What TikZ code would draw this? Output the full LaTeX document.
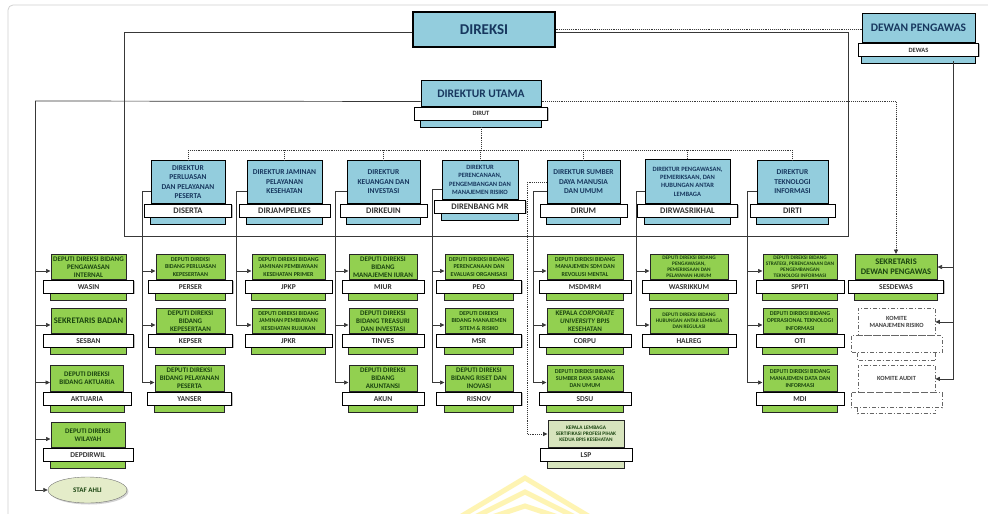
\documentclass[tikz,border=0pt]{standalone}
\usepackage{fontspec}
\setmainfont{Carlito}
\usetikzlibrary{arrows.meta,shapes.geometric,shadows}

\definecolor{dirblue}{HTML}{93CDDD}
\definecolor{depgreen}{HTML}{92D050}
\definecolor{lspgreen}{HTML}{D7E4BD}
\definecolor{ahligreen}{HTML}{E4ECC9}
\definecolor{navytext}{HTML}{17375E}
\definecolor{greentext}{HTML}{1A4410}
\definecolor{linegray}{HTML}{383838}

% kotak jabatan: bagian warna, label putih, strip bawah
% #1 gaya, #2 nama, #3 x, #4 atas, #5 tinggi judul, #6 lebar, #7 lebar label, #8 judul, #9 singkatan
\newcommand{\orgcard}[9]{%
  \node[#1, minimum width=#6pt, minimum height=#5pt, anchor=north] (#2) at (#3,#4) {#8};
  \draw[#1] (#2.south west) rectangle ([yshift=-20pt]#2.south east);
  \node[cardlabel, minimum width=#7pt, anchor=north] (#2-l) at (#2.south) {#9};
}
\newcommand{\dlab}[1]{{\fontsize{8.5}{9}\selectfont #1}}
\newcommand{\slab}[1]{{\fontsize{6.5}{7}\selectfont #1}}

\begin{document}
\begin{tikzpicture}[x=1pt, y=-1pt,
    link/.style={draw=linegray, line width=0.7pt},
    arr/.style={link, -{Triangle[length=4.5pt, width=4pt]}},
    dotlink/.style={draw=linegray, line width=0.9pt, densely dotted},
    dotarr/.style={dotlink, -{Triangle[length=4.5pt, width=4pt]}},
    topbox/.style={draw=black, line width=1.1pt, fill=dirblue, text=navytext, minimum width=142pt, minimum height=35pt, font=\bfseries\fontsize{15}{17}\selectfont},
    dircard/.style={draw=black, line width=1pt, fill=dirblue, text=navytext, align=center, inner sep=1pt, font=\bfseries\fontsize{7.5}{9.5}\selectfont},
    dirsmall/.style={font=\bfseries\fontsize{6.5}{8.3}\selectfont},
    bigfont/.style={font=\bfseries\fontsize{11.5}{13}\selectfont},
    depcard/.style={draw=black!85, line width=1pt, fill=depgreen, text=greentext, align=center, inner sep=1pt, font=\bfseries\fontsize{7}{8.2}\selectfont},
    lspcard/.style={depcard, fill=lspgreen},
    depsix/.style={font=\bfseries\fontsize{6}{7.2}\selectfont},
    depfive/.style={font=\bfseries\fontsize{5.3}{6.1}\selectfont},
    depbig/.style={font=\bfseries\fontsize{8.5}{10}\selectfont},
    cardlabel/.style={draw=black, line width=0.8pt, fill=white, minimum height=13pt, inner sep=0pt, text=black!80, font=\bfseries\fontsize{7.5}{8}\selectfont, drop shadow={shadow xshift=1pt, shadow yshift=-1pt, opacity=0.5}},
    komite/.style={draw=black!60, line width=0.8pt, dash pattern=on 4pt off 2pt on 1pt off 2pt, fill=white, text=black!75, align=center, inner sep=1pt, font=\bfseries\fontsize{6.3}{7.8}\selectfont},
    komiteline/.style={draw=black!60, line width=0.8pt, dash pattern=on 4pt off 2pt on 1pt off 2pt}
]
\clip (0,0) rectangle (988,514);
\fill[white] (0,0) rectangle (988,514);
\draw[black!18, line width=0.8pt, rounded corners=5pt] (8,5) rectangle (1000,530);

% tanda air
\foreach \d in {0,14,28}
  \draw[yellow!80!orange, opacity=0.3, line width=5pt] (455+\d,520) -- (525,478+\d) -- (595-\d,520);

% pimpinan
\node[topbox] (direksi) at (484,29.5) {DIREKSI};
\orgcard{dircard,bigfont}{dewan}{918.5}{13}{29}{113}{120}{DEWAN PENGAWAS}{\slab{DEWAS}}
\orgcard{dircard,bigfont}{dirut}{481}{80}{26}{120}{133}{DIREKTUR UTAMA}{\slab{DIRUT}}

% direktur
\orgcard{dircard}{diserta}{188}{160}{43}{74}{87}{DIREKTUR\\PERLUASAN\\DAN PELAYANAN\\PESERTA}{\dlab{DISERTA}}
\orgcard{dircard}{dirjampelkes}{284.5}{160}{43}{75}{91}{DIREKTUR JAMINAN\\PELAYANAN\\KESEHATAN}{\dlab{DIRJAMPELKES}}
\orgcard{dircard}{dirkeuin}{383.5}{160}{43}{73}{87}{DIREKTUR\\KEUANGAN DAN\\INVESTASI}{\dlab{DIRKEUIN}}
\orgcard{dircard,dirsmall}{direnbang}{480}{160}{39}{76}{91}{DIREKTUR\\PERENCANAAN,\\PENGEMBANGAN DAN\\MANAJEMEN RISIKO}{\dlab{DIRENBANG MR}}
\orgcard{dircard}{dirum}{583.5}{160}{43}{73}{87}{DIREKTUR SUMBER\\DAYA MANUSIA\\DAN UMUM}{\dlab{DIRUM}}
\orgcard{dircard,dirsmall}{dirwasrikhal}{687.5}{159}{44}{85}{100}{DIREKTUR PENGAWASAN,\\PEMERIKSAAN, DAN\\HUBUNGAN ANTAR\\LEMBAGA}{\dlab{DIRWASRIKHAL}}
\orgcard{dircard}{dirti}{792.5}{160}{43}{71}{85}{DIREKTUR\\TEKNOLOGI\\INFORMASI}{\dlab{DIRTI}}

% deputi di bawah dirut
\orgcard{depcard}{wasin}{88.5}{254}{25}{75}{90}{DEPUTI DIREKSI BIDANG\\PENGAWASAN\\INTERNAL}{WASIN}
\orgcard{depcard,depbig}{sesban}{88.5}{308}{25}{75}{90}{SEKRETARIS BADAN}{SESBAN}
\orgcard{depcard}{aktuaria}{87}{365}{26}{73}{88}{DEPUTI DIREKSI\\BIDANG AKTUARIA}{AKTUARIA}
\orgcard{depcard}{depdirwil}{88}{422}{25}{74}{90}{DEPUTI DIREKSI\\WILAYAH}{DEPDIRWIL}
\node[ellipse, draw=black!55, fill=ahligreen, text=greentext, minimum width=79pt, minimum height=26pt, font=\bfseries\fontsize{7}{8}\selectfont, drop shadow={shadow xshift=1.5pt, shadow yshift=-1.5pt, opacity=0.35}] (ahli) at (87.5,490) {STAF AHLI};

% deputi per direktur
\orgcard{depcard,depsix}{perser}{190.5}{254}{25}{69}{84}{DEPUTI DIREKSI\\BIDANG PERLUASAN\\KEPESERTAAN}{PERSER}
\orgcard{depcard}{kepser}{190.5}{308}{25}{69}{84}{DEPUTI DIREKSI\\BIDANG\\KEPESERTAAN}{KEPSER}
\orgcard{depcard}{yanser}{189.5}{365}{26}{69}{84}{DEPUTI DIREKSI\\BIDANG PELAYANAN\\PESERTA}{YANSER}

\orgcard{depcard,depsix}{jpkp}{288.5}{254}{25}{73}{87}{DEPUTI DIREKSI BIDANG\\JAMINAN PEMBIAYAAN\\KESEHATAN PRIMER}{JPKP}
\orgcard{depcard,depsix}{jpkr}{288.5}{308}{25}{73}{87}{DEPUTI DIREKSI BIDANG\\JAMINAN PEMBIAYAAN\\KESEHATAN RUJUKAN}{JPKR}

\orgcard{depcard}{miur}{383}{254}{25}{68}{82}{DEPUTI DIREKSI\\BIDANG\\MANAJEMEN IURAN}{MIUR}
\orgcard{depcard}{tinves}{383}{308}{25}{68}{82}{DEPUTI DIREKSI\\BIDANG TREASURI\\DAN INVESTASI}{TINVES}
\orgcard{depcard}{akun}{383}{365}{26}{68}{82}{DEPUTI DIREKSI\\BIDANG\\AKUNTANSI}{AKUN}

\orgcard{depcard,depsix}{peo}{479}{254}{25}{68}{85}{DEPUTI DIREKSI BIDANG\\PERENCANAAN DAN\\EVALUASI ORGANISASI}{PEO}
\orgcard{depcard,depsix}{msr}{479}{308}{25}{68}{85}{DEPUTI DIREKSI\\BIDANG MANAJEMEN\\SITEM \& RISIKO}{MSR}
\orgcard{depcard}{risnov}{479}{365}{26}{68}{85}{DEPUTI DIREKSI\\BIDANG RISET DAN\\INOVASI}{RISNOV}

\orgcard{depcard,depsix}{msdmrm}{585}{254}{25}{76}{92}{DEPUTI DIREKSI BIDANG\\MANAJEMEN SDM DAN\\REVOLUSI MENTAL}{MSDMRM}
\orgcard{depcard}{corpu}{585}{308}{25}{76}{92}{KEPALA \textit{CORPORATE}\\\textit{UNIVERSITY} BPJS\\KESEHATAN}{CORPU}
\orgcard{depcard,depsix}{sdsu}{585}{365}{26}{76}{92}{DEPUTI DIREKSI BIDANG\\SUMBER DAYA SARANA\\DAN UMUM}{SDSU}
\orgcard{lspcard,depfive}{lsp}{586}{420}{27}{76}{92}{KEPALA LEMBAGA\\SERTIFIKASI PROFESI PIHAK\\KEDUA BPJS KESEHATAN}{LSP}

\orgcard{depcard,depfive}{wasrikkum}{689}{254}{25}{78}{94}{DEPUTI DIREKSI BIDANG\\PENGAWASAN,\\PEMERIKSAAN DAN\\PELAYANAN HUKUM}{WASRIKKUM}
\orgcard{depcard,depfive}{halreg}{689}{308}{25}{78}{94}{DEPUTI DIREKSI BIDANG\\HUBUNGAN ANTAR LEMBAGA\\DAN REGULASI}{HALREG}

\orgcard{depcard,depfive}{sppti}{800}{254}{25}{74}{88}{DEPUTI DIREKSI BIDANG\\STRATEGI, PERENCANAAN DAN\\PENGEMBANGAN\\TEKNOLOGI INFORMASI}{SPPTI}
\orgcard{depcard,depsix}{oti}{800}{308}{25}{74}{88}{DEPUTI DIREKSI BIDANG\\OPERASIONAL TEKNOLOGI\\INFORMASI}{OTI}
\orgcard{depcard,depsix}{mdi}{800}{365}{26}{74}{88}{DEPUTI DIREKSI BIDANG\\MANAJEMEN DATA DAN\\INFORMASI}{MDI}

% dewan pengawas
\orgcard{depcard,depbig}{sesdewas}{896}{254}{25}{82}{95}{SEKRETARIS\\DEWAN PENGAWAS}{SESDEWAS}
\node[komite, minimum width=77pt, minimum height=27pt, anchor=north] (kmr) at (896.5,308) {KOMITE\\MANAJEMEN RISIKO};
\draw[komiteline] ([xshift=-6.5pt]kmr.south west) rectangle ([xshift=6.5pt, yshift=-17pt]kmr.south east);
\draw[komiteline] ([yshift=-17pt]kmr.south west) -- ([yshift=-25pt]kmr.south west) -- ([yshift=-25pt]kmr.south east) -- ([yshift=-17pt]kmr.south east);
\node[komite, minimum width=77pt, minimum height=27pt, anchor=north] (audit) at (896.5,365) {KOMITE AUDIT};
\draw[komiteline] ([xshift=-6.5pt]audit.south west) rectangle ([xshift=6.5pt, yshift=-15pt]audit.south east);
\draw[komiteline] ([yshift=-15pt]audit.south west) -- ([yshift=-21pt]audit.south west) -- ([yshift=-21pt]audit.south east) -- ([yshift=-15pt]audit.south east);

% garis direksi
\coordinate (frsw) at (124,236);
\coordinate (frse) at (848,236);
\draw[link] ([yshift=-3pt]direksi.west) -| (frsw) -- (frse) |- ([yshift=-3pt]direksi.east);
\draw[dotlink] (direksi.east) -- (direksi.east -| dewan.west);

% garis dewas
\coordinate (dw) at (953,61);
\foreach \n in {sesdewas,kmr,audit}
  \draw[arr] (dw) |- (\n.east);

% garis dirut
\coordinate (ul) at (35,101);
\draw[link] ([yshift=-8pt]dirut.west) -- (ul);
\foreach \n in {wasin,sesban,aktuaria,depdirwil}
  \draw[arr] (ul) |- ([yshift=-4pt]\n.west);
\draw[arr] (ul) |- (ahli.west);
\draw[dotarr] ([yshift=-8pt]dirut.east) -| (sesdewas.north);

\coordinate (bus) at (481,150);
\draw[dotlink] ([yshift=-20pt]dirut.south) -- (bus);
\draw[dotlink] (bus -| diserta.north) -- (bus -| dirti.north);
\foreach \d in {diserta,dirjampelkes,dirkeuin,direnbang,dirum,dirwasrikhal,dirti}
  \draw[dotlink] (bus -| \d.north) -- (\d.north);

% garis direktur ke deputi
\coordinate (k1) at (142,191);
\draw[link] (k1 -| diserta.west) -- (k1);
\foreach \n in {perser,kepser,yanser}
  \draw[arr] (k1) |- ([yshift=-4pt]\n.west);

\coordinate (k2) at (236,191);
\draw[link] (k2 -| dirjampelkes.west) -- (k2);
\foreach \n in {jpkp,jpkr}
  \draw[arr] (k2) |- ([yshift=-4pt]\n.west);

\coordinate (k3) at (335,191);
\draw[link] (k3 -| dirkeuin.west) -- (k3);
\foreach \n in {miur,tinves,akun}
  \draw[arr] (k3) |- ([yshift=-4pt]\n.west);

\coordinate (k4) at (432,189);
\draw[link] (k4 -| direnbang.west) -- (k4);
\foreach \n in {peo,msr,risnov}
  \draw[arr] (k4) |- ([yshift=-4pt]\n.west);

\coordinate (k5) at (533,191);
\draw[link] (k5 -| dirum.west) -- (k5);
\foreach \n in {msdmrm,corpu,sdsu}
  \draw[arr] (k5) |- ([yshift=-4pt]\n.west);
\coordinate (k5d) at (527,182);
\draw[dotlink] (k5d -| dirum.west) -- (k5d);
\draw[dotarr] (k5d) |- (lsp.west);

\coordinate (k6) at (636,191);
\draw[link] (k6 -| dirwasrikhal.west) -- (k6);
\foreach \n in {wasrikkum,halreg}
  \draw[arr] (k6) |- ([yshift=-4pt]\n.west);

\coordinate (k7) at (747,191);
\draw[link] (k7 -| dirti.west) -- (k7);
\foreach \n in {sppti,oti,mdi}
  \draw[arr] (k7) |- ([yshift=-4pt]\n.west);

\end{tikzpicture}
\end{document}
